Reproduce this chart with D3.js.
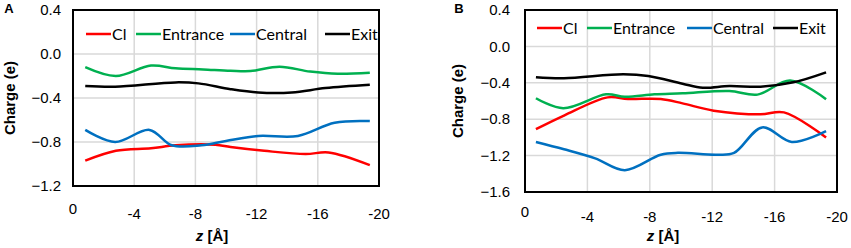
<!DOCTYPE html>
<html>
<head>
<meta charset="utf-8">
<script src="https://cdn.jsdelivr.net/npm/d3@7"></script>
<style>
  body { margin: 0; background: #fff; }
  svg text { font-family: "Liberation Sans", Arial, sans-serif; fill: #000; }
</style>
</head>
<body>
<div id="chart"></div>
<script>
// series order and colours
const seriesNames = ["Cl", "Entrance", "Central", "Exit"];
const seriesColors = ["#ff0000", "#00b050", "#0070c0", "#000000"];

const xTicks = [0, -4, -8, -12, -16, -20];
const yTicksA = [0.4, 0.0, -0.4, -0.8, -1.2];
const yTicksB = [0.4, 0.0, -0.4, -0.8, -1.2, -1.6];

// panel A : [z, charge]
const aCl = [[-0.8, -0.97], [-2.8, -0.88], [-5.1, -0.857], [-6.7, -0.83], [-9.3, -0.825], [-10.3, -0.845], [-12.5, -0.88], [-15.2, -0.91], [-16.7, -0.895], [-19.4, -1.01]];
const aEntrance = [[-0.8, -0.12], [-2.8, -0.2], [-5.1, -0.105], [-6.7, -0.13], [-8.5, -0.14], [-10.3, -0.152], [-11.6, -0.155], [-13.5, -0.115], [-15.5, -0.16], [-17.3, -0.18], [-19.4, -0.17]];
const aCentral = [[-0.8, -0.69], [-2.75, -0.8], [-5.0, -0.69], [-6.45, -0.83], [-8.4, -0.83], [-10.0, -0.79], [-12.1, -0.745], [-14.7, -0.745], [-17.1, -0.625], [-19.4, -0.61]];
const aExit = [[-0.8, -0.29], [-2.75, -0.297], [-6.7, -0.258], [-8.2, -0.267], [-10.3, -0.32], [-12.1, -0.35], [-14.3, -0.35], [-16.5, -0.31], [-19.4, -0.28]];

// panel B : [z, charge]
const bCl = [[-0.7, -0.91], [-2.5, -0.76], [-5.3, -0.56], [-6.6, -0.578], [-8.7, -0.578], [-10.1, -0.626], [-12.1, -0.706], [-15.1, -0.746], [-16.6, -0.725], [-19.3, -1.0]];
const bEntrance = [[-0.7, -0.57], [-2.45, -0.68], [-5.2, -0.527], [-6.4, -0.553], [-8.3, -0.527], [-10.1, -0.516], [-13.1, -0.49], [-14.9, -0.53], [-17.0, -0.375], [-19.3, -0.58]];
const bCentral = [[-0.7, -1.05], [-2.5, -1.13], [-4.5, -1.23], [-6.4, -1.36], [-8.7, -1.19], [-9.8, -1.17], [-12.3, -1.19], [-13.4, -1.17], [-15.2, -0.89], [-17.1, -1.05], [-19.3, -0.93]];
const bExit = [[-0.7, -0.34], [-2.5, -0.35], [-6.3, -0.307], [-7.9, -0.325], [-10.1, -0.41], [-11.4, -0.454], [-13.1, -0.435], [-15.1, -0.443], [-17.2, -0.395], [-19.3, -0.285]];

const W = 851, H = 248;
const svg = d3.select("#chart").append("svg")
  .attr("width", W).attr("height", H);

function panel(opts) {
  const { left, right, top, bottom, yDomain, yTicks, series, letter, legendX, legendY, yTitleX, xTitleX, labelGap, xLabOff } = opts;

  const x = d3.scaleLinear().domain([0, -20]).range([left, right]);
  const y = d3.scaleLinear().domain(yDomain).range([bottom, top]);
  const g = svg.append("g");

  // grid
  g.selectAll(".vgrid").data(xTicks.slice(1, -1)).enter().append("line")
    .attr("x1", d => x(d)).attr("x2", d => x(d))
    .attr("y1", top).attr("y2", bottom)
    .attr("stroke", "#d9d9d9").attr("stroke-width", 1.5);
  g.selectAll(".hgrid").data(yTicks.slice(1, -1)).enter().append("line")
    .attr("x1", left).attr("x2", right)
    .attr("y1", d => y(d)).attr("y2", d => y(d))
    .attr("stroke", "#d9d9d9").attr("stroke-width", 1.5);

  // series
  const line = d3.line()
    .x(d => x(d[0])).y(d => y(d[1]))
    .curve(d3.curveCatmullRom.alpha(0.5));
  series.forEach((s, i) => {
    g.append("path").datum(s)
      .attr("fill", "none")
      .attr("stroke", seriesColors[i])
      .attr("stroke-width", 2.5)
      .attr("stroke-linejoin", "round")
      .attr("d", line);
  });

  // frame
  g.append("rect")
    .attr("x", left).attr("y", top)
    .attr("width", right - left).attr("height", bottom - top)
    .attr("fill", "none").attr("stroke", "#000").attr("stroke-width", 2);

  // y tick labels
  const fmt = d3.format(".1f");
  g.selectAll(".ylab").data(yTicks).enter().append("text")
    .attr("x", left - labelGap).attr("y", d => y(d))
    .attr("dy", "0.35em").attr("text-anchor", "end")
    .style("font-size", "15px")
    .text(d => fmt(d));

  // x tick labels
  g.selectAll(".xlab").data(xTicks).enter().append("text")
    .attr("x", d => x(d))
    .attr("y", d => d === 0 ? bottom + xLabOff - 5 : bottom + xLabOff)
    .attr("dy", "0.35em").attr("text-anchor", "middle")
    .style("font-size", "15px")
    .text(d => String(d));

  // axis titles
  const xt = g.append("text")
    .attr("x", xTitleX).attr("y", 236).attr("dy", "0.35em")
    .attr("text-anchor", "middle")
    .style("font-size", "15px").style("font-weight", "bold");
  xt.append("tspan").style("font-style", "italic").text("z");
  xt.append("tspan").text(" [Å]");

  g.append("text")
    .attr("transform", `translate(${yTitleX},${(top + bottom) / 2}) rotate(-90)`)
    .attr("dy", "0.35em").attr("text-anchor", "middle")
    .style("font-size", "15px").style("font-weight", "bold")
    .text("Charge (e)");

  // panel letter
  g.append("text")
    .attr("x", letter.x).attr("y", 8).attr("dy", "0.35em")
    .attr("text-anchor", "middle")
    .style("font-size", "13px").style("font-weight", "bold")
    .text(letter.t);

  // legend
  seriesNames.forEach((name, i) => {
    const lx = legendX[i];
    g.append("line")
      .attr("x1", lx).attr("x2", lx + 25)
      .attr("y1", legendY).attr("y2", legendY)
      .attr("stroke", seriesColors[i]).attr("stroke-width", 2.5);
    g.append("text")
      .attr("x", lx + 26).attr("y", legendY).attr("dy", "0.35em")
      .style("font-family", "Lato, 'Open Sans', sans-serif")
      .style("font-size", "16px")
      .text(name);
  });
}

panel({
  left: 73, right: 379, top: 10, bottom: 186,
  yDomain: [-1.2, 0.4], yTicks: yTicksA,
  series: [aCl, aEntrance, aCentral, aExit],
  letter: { x: 9, t: "A" },
  legendX: [86, 136, 230, 325], legendY: 34,
  yTitleX: 10, xTitleX: 212, labelGap: 12, xLabOff: 28
});

panel({
  left: 525, right: 837, top: 10, bottom: 192,
  yDomain: [-1.6, 0.4], yTicks: yTicksB,
  series: [bCl, bEntrance, bCentral, bExit],
  letter: { x: 459, t: "B" },
  legendX: [537, 587, 687, 773], legendY: 28,
  yTitleX: 458, xTitleX: 663, labelGap: 15, xLabOff: 25
});
</script>
</body>
</html>
